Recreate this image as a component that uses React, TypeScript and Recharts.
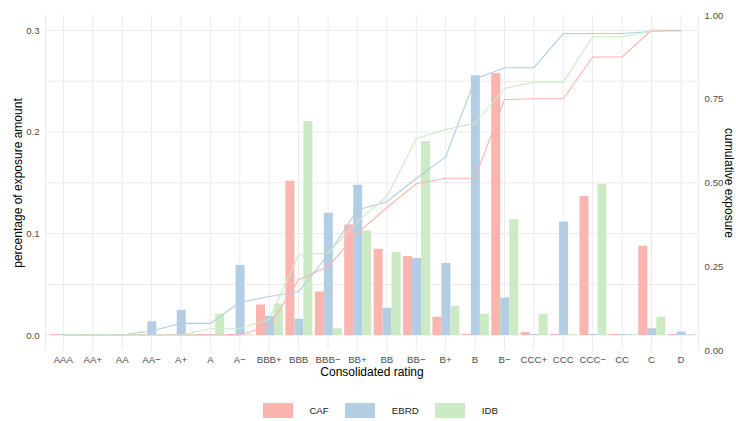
import React from 'react';
import { ComposedChart, Bar, Line, XAxis, YAxis, CartesianGrid } from 'recharts';

// rating buckets, best to worst
const ratings = [
  'AAA', 'AA+', 'AA', 'AA−', 'A+', 'A', 'A−', 'BBB+', 'BBB', 'BBB−', 'BB+',
  'BB', 'BB−', 'B+', 'B', 'B−', 'CCC+', 'CCC', 'CCC−', 'CC', 'C', 'D',
];

// share of exposure per rating
const caf = [0, 0, 0, 0, 0, 0, 0, 0.030, 0.152, 0.043, 0.109, 0.085, 0.078, 0.018, 0, 0.258, 0.003, 0, 0.137, 0, 0.088, 0];
const ebrd = [0, 0, 0, 0.0135, 0.025, 0, 0.069, 0.019, 0.016, 0.1205, 0.148, 0.027, 0.076, 0.071, 0.256, 0.037, 0, 0.112, 0, 0, 0.0066, 0.0036];
const idb = [0, 0, 0, 0, 0, 0.021, 0, 0.031, 0.211, 0.0066, 0.103, 0.082, 0.191, 0.029, 0.021, 0.114, 0.021, 0, 0.149, 0, 0.018, 0];

const leftTicks = [0, 0.1, 0.2, 0.3];
const gridValues = [0, 0.05, 0.1, 0.15, 0.2, 0.25, 0.3];
const rightTicks = [0, 0.25, 0.5, 0.75, 1];

const series = [
  { key: 'caf', name: 'CAF', color: '#FBB4AE' },
  { key: 'ebrd', name: 'EBRD', color: '#B3CDE3' },
  { key: 'idb', name: 'IDB', color: '#CCEBC5' },
];

const running = (arr: number[]) => {
  let s = 0;
  return arr.map((v) => (s += v));
};

const cafCum = running(caf);
const ebrdCum = running(ebrd);
const idbCum = running(idb);

const data = ratings.map((r, i) => ({
  rating: r,
  caf: caf[i],
  ebrd: ebrd[i],
  idb: idb[i],
  cafCum: cafCum[i],
  ebrdCum: ebrdCum[i],
  idbCum: idbCum[i],
}));

const FONT = '"Liberation Sans", Arial, Helvetica, sans-serif';
const tickStyle = { fill: '#4D4D4D', fontSize: 9.7, fontFamily: FONT };

export default function App() {
  return (
    <div style={{ position: 'absolute', left: 0, top: 0, width: 736, height: 421, background: '#fff', fontFamily: FONT }}>
      <ComposedChart
        width={736}
        height={421}
        data={data}
        margin={{ top: 15.3, right: 0, bottom: 40.7, left: 0 }}
        barCategoryGap="5%"
        barGap={0}
      >
        <CartesianGrid stroke="#EBEBEB" strokeWidth={1} horizontalValues={gridValues} />
        <XAxis
          dataKey="rating"
          interval={0}
          height={30}
          padding={{ left: 2.94, right: 2.94 }}
          axisLine={false}
          tickLine={false}
          tickSize={4}
          tickMargin={2}
          tick={tickStyle}
        />
        <YAxis
          domain={[-0.015, 0.315]}
          allowDataOverflow
          ticks={leftTicks}
          tickFormatter={(v: number) => v.toFixed(1)}
          width={45.7}
          axisLine={false}
          tickLine={false}
          tickSize={4}
          tickMargin={2}
          tick={tickStyle}
        />
        <YAxis
          yAxisId="right"
          orientation="right"
          domain={[0, 1]}
          allowDataOverflow
          ticks={rightTicks}
          tickFormatter={(v: number) => v.toFixed(2)}
          width={37.4}
          axisLine={false}
          tickLine={false}
          tickSize={4}
          tickMargin={2}
          tick={{ ...tickStyle, textAnchor: 'start' }}
        />
        <YAxis yAxisId="cum" hide domain={[-0.05, 1.05]} allowDataOverflow />
        {series.map((s) => (
          <Bar
            key={s.key}
            dataKey={s.key}
            name={s.name}
            fill={s.color}
            minPointSize={1}
            isAnimationActive={false}
          />
        ))}
        {series.map((s) => (
          <Line
            key={s.key + 'Cum'}
            yAxisId="cum"
            dataKey={s.key + 'Cum'}
            type="linear"
            stroke={s.color}
            strokeWidth={1.1}
            dot={false}
            activeDot={false}
            isAnimationActive={false}
          />
        ))}
      </ComposedChart>

      {/* axis titles */}
      <div style={{ position: 'absolute', left: 17.5, top: 182.5, transform: 'translate(-50%, -50%) rotate(-90deg)', fontSize: 12, color: '#000', whiteSpace: 'nowrap' }}>
        percentage of exposure amount
      </div>
      <div style={{ position: 'absolute', left: 729, top: 182.5, transform: 'translate(-50%, -50%) rotate(90deg)', fontSize: 12, color: '#000', whiteSpace: 'nowrap' }}>
        cumulative exposure
      </div>
      <div style={{ position: 'absolute', left: 372, top: 372, transform: 'translate(-50%, -50%)', fontSize: 12, color: '#000', whiteSpace: 'nowrap' }}>
        Consolidated rating
      </div>

      {/* legend */}
      <div style={{ position: 'absolute', left: 263, top: 403, display: 'flex', alignItems: 'center', height: 15 }}>
        {series.map((s) => (
          <div key={s.key} style={{ display: 'flex', alignItems: 'center' }}>
            <div style={{ width: 29.7, height: 14.7, background: s.color, marginRight: 16.7 }} />
            <span style={{ fontSize: 9.7, color: '#1A1A1A', marginRight: 16.7 }}>{s.name}</span>
          </div>
        ))}
      </div>
    </div>
  );
}
